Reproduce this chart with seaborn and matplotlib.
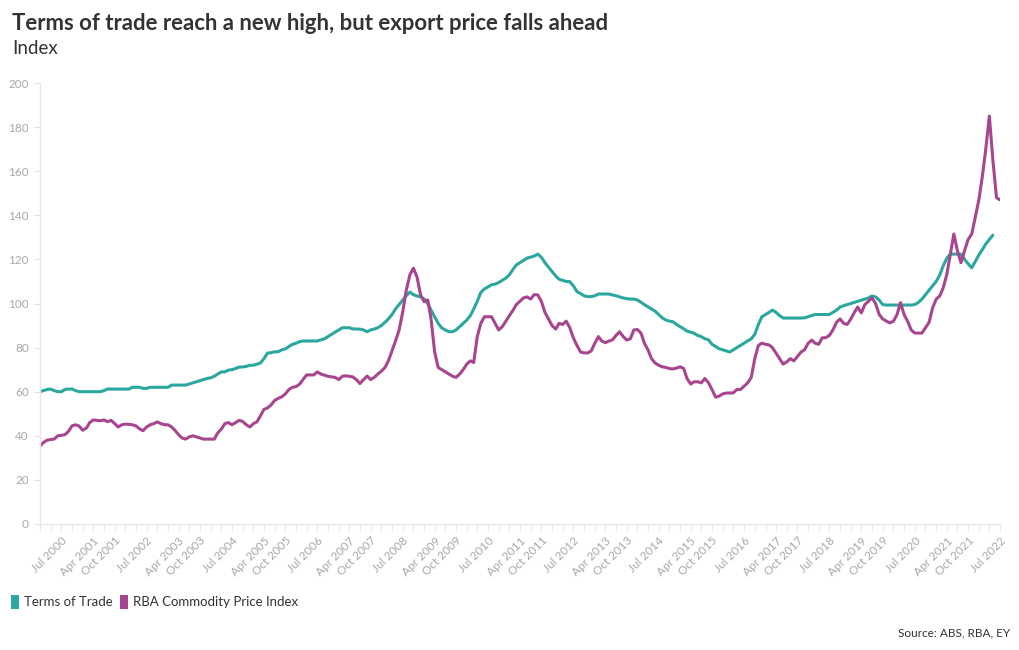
import numpy as np
import pandas as pd
import matplotlib
matplotlib.use("Agg")
import matplotlib.pyplot as plt
import matplotlib.dates as mdates
from matplotlib.patches import Patch
import seaborn as sns

# ---------------- data ----------------
series_names = ["Terms of Trade", "RBA Commodity Price Index"]

tot_start = "2000-01-01"   # monthly, Jan 2000 - May 2022
tot_values = [
    60, 60.5, 61, 61.2, 60.5, 60, 60, 61, 61.2, 61.2, 60.5, 60,
    60, 60, 60, 60, 60, 60, 60.5, 61.2, 61.2, 61.2, 61.2, 61.2,
    61.2, 61.2, 62, 62, 62, 61.5, 61.5, 62, 62, 62, 62, 62,
    62, 63, 63, 63, 63, 63, 63.5, 64, 64.5, 65, 65.5, 66,
    66.3, 67, 68, 69, 69, 69.8, 70, 70.5, 71.2, 71.2, 71.5, 72,
    72, 72.5, 73, 75, 77.5, 77.7, 78.1, 78.1, 79, 79.4, 80.5, 81.5,
    82, 82.7, 83, 83, 83, 83, 83, 83.5, 84, 85, 86, 87,
    88, 89, 89, 89, 88.5, 88.4, 88.4, 88, 87.2, 88, 88.4, 89,
    90, 91.5, 93, 95, 97.5, 99.5, 101.5, 103.5, 105.2, 104, 103.4, 103,
    102, 100, 97, 94, 91, 88.9, 88, 87.2, 87.2, 88, 89.5, 91,
    92.5, 94.5, 97.5, 101, 105, 106.6, 107.5, 108.5, 108.8, 109.5, 110.5, 111.5,
    113, 115.5, 117.5, 118.5, 119.5, 120.6, 121, 121.5, 122.4, 121, 118.5, 116.5,
    114.5, 112.5, 111, 110.5, 110, 109.9, 108, 105.4, 104.5, 103.5, 103.1, 103.1,
    103.5, 104.3, 104.3, 104.3, 104.3, 103.9, 103.5, 103, 102.5, 102.2, 102, 102,
    101.6, 100.5, 99.5, 98.5, 97.5, 96.5, 95, 93.5, 92.5, 92, 91.7, 90.5,
    89.5, 88.5, 87.5, 87, 86.5, 85.5, 85, 84, 83.5, 81.5, 80.5, 79.5,
    79, 78.5, 78, 79, 80, 81, 82, 83, 84, 86, 90.5, 94,
    95, 96, 97, 96, 94.5, 93.4, 93.4, 93.4, 93.4, 93.4, 93.4, 93.5,
    94, 94.5, 95, 95, 95, 95, 95, 96, 97, 98.4, 99, 99.5,
    100, 100.5, 101, 101.5, 102, 102.5, 103.4, 103, 101.5, 99.5, 99.3, 99.3,
    99.3, 99.3, 99.3, 99.3, 99.3, 99.3, 99.5, 100.5, 102, 104, 106, 108,
    110, 113, 117, 120.5, 122.4, 122.4, 122.4, 122.4, 120, 118, 116.2, 119,
    122, 124.5, 127, 129, 131,
]

rba_start = "2000-01-01"   # monthly, Jan 2000 - Jul 2022
rba_values = [
    35.4, 37, 38, 38.3, 38.5, 40, 40.2, 40.5, 42, 44.5, 45, 44.4,
    42.5, 43.5, 46, 47.2, 47, 46.8, 47.2, 46.4, 47, 45.5, 44, 45,
    45.3, 45.2, 45, 44.5, 43.2, 42.3, 44, 45, 45.5, 46.3, 45.5, 45,
    45, 44, 42.5, 40.5, 39, 38.5, 39.5, 40, 39.5, 39, 38.5, 38.5,
    38.5, 38.5, 41.3, 43, 45.5, 46, 45, 46, 47, 46.5, 45, 44,
    45.5, 46.4, 49, 52, 52.6, 54, 56, 57, 57.7, 59, 61, 62,
    62.3, 63.5, 65.5, 67.6, 67.6, 67.6, 69, 68, 67.5, 67, 66.7, 66.5,
    65.5, 67, 67.2, 67, 66.7, 65.5, 63.7, 65.5, 67.1, 65.5, 66.5, 68,
    69.3, 71, 74, 78.5, 83, 88, 96, 106, 113, 116, 112, 104,
    100.8, 101.6, 93, 78, 71, 70, 69, 68, 67, 66.5, 68, 70,
    72.5, 74, 73.2, 85, 91, 94, 94, 94, 91, 88, 89.5, 92,
    94.5, 97, 99.5, 101, 102.5, 103, 102, 104, 103.9, 101, 96, 93,
    90, 88.4, 91, 90.5, 92, 89, 84.4, 81, 78, 77.6, 77.6, 78.5,
    82, 85, 83, 82.2, 83, 83.5, 85.5, 87.2, 85, 83.4, 84, 88,
    88.2, 86.5, 82, 79, 75, 73, 72, 71.3, 71, 70.5, 70.3, 70.7,
    71.3, 70.5, 66, 63.5, 64.5, 64.5, 64, 66, 64, 61, 57.5, 58,
    59, 59.4, 59.4, 59.5, 61, 61, 62.5, 64, 66.5, 75, 81, 82,
    81.5, 81.2, 80, 77.5, 75, 72.5, 73.5, 75, 74, 76, 78, 79,
    82, 83.4, 82, 81.5, 84.4, 84.5, 85.5, 88, 91.5, 93, 91, 90.5,
    93, 96, 98.4, 95.7, 99.5, 101, 102.5, 100, 95, 93, 92, 91.2,
    92, 95, 100.4, 95, 92, 88, 86.6, 86.6, 86.6, 89, 91.5, 98,
    102, 103.5, 107, 113, 122, 131.5, 124, 118.5, 124, 129, 131.5, 139,
    147, 158, 170, 185, 165, 148, 147,
]

tick_labels = ["Jul 2000", "Apr 2001", "Oct 2001", "Jul 2002", "Apr 2003", "Oct 2003",
               "Jul 2004", "Apr 2005", "Oct 2005", "Jul 2006", "Apr 2007", "Oct 2007",
               "Jul 2008", "Apr 2009", "Oct 2009", "Jul 2010", "Apr 2011", "Oct 2011",
               "Jul 2012", "Apr 2013", "Oct 2013", "Jul 2014", "Apr 2015", "Oct 2015",
               "Jul 2016", "Apr 2017", "Oct 2017", "Jul 2018", "Apr 2019", "Oct 2019",
               "Jul 2020", "Apr 2021", "Oct 2021", "Jul 2022"]
y_ticks = [0, 20, 40, 60, 80, 100, 120, 140, 160, 180, 200]

title = "Terms of trade reach a new high, but export price falls ahead"
subtitle = "Index"
source = "Source: ABS, RBA, EY"

colors = ["#2aa79e", "#a8458f"]

# ---------------- frame ----------------
tot = pd.DataFrame({"date": pd.date_range(tot_start, periods=len(tot_values), freq="MS"),
                    "value": tot_values, "series": series_names[0]})
rba = pd.DataFrame({"date": pd.date_range(rba_start, periods=len(rba_values), freq="MS"),
                    "value": rba_values, "series": series_names[1]})
df = pd.concat([tot, rba], ignore_index=True)

sns.set_theme(style="white")
plt.rcParams["font.family"] = ["Lato", "DejaVu Sans"]

fig = plt.figure(figsize=(10.2, 6.5), dpi=100)
ax = fig.add_axes([40 / 1020, 126 / 650, 960 / 1020, 441 / 650])

sns.lineplot(data=df, x="date", y="value", hue="series", palette=colors,
             linewidth=2.2, ax=ax, legend=False, solid_joinstyle="round",
             solid_capstyle="round")

ax.set_ylim(0, 200)
ax.set_xlim(pd.Timestamp("2000-01-01"), pd.Timestamp("2022-07-01"))
ax.set_xlabel("")
ax.set_ylabel("")

# y axis
ax.set_yticks(y_ticks)
ax.set_yticklabels([str(v) for v in y_ticks])
ax.tick_params(axis="y", length=4, width=0.8, color="#e0e0e0", labelcolor="#a8a8a8",
               labelsize=8.5, pad=4, left=True)

# x axis
tick_dates = [pd.Timestamp(pd.to_datetime(t, format="%b %Y")) for t in tick_labels]
ax.set_xticks(tick_dates)
ax.set_xticklabels(tick_labels, rotation=45, ha="right", rotation_mode="anchor")
ax.xaxis.set_minor_locator(mdates.MonthLocator(bymonth=[1, 4, 7, 10]))
ax.tick_params(axis="x", which="both", length=5, width=0.8, color="#e6e6e6",
               labelcolor="#a8a8a8", labelsize=8.5, pad=3, bottom=True)

for s in ["top", "right"]:
    ax.spines[s].set_visible(False)
for s in ["left", "bottom"]:
    ax.spines[s].set_color("#e6e6e6")
    ax.spines[s].set_linewidth(0.9)
ax.grid(False)

# titles
fig.text(12 / 1020, 1 - 24 / 650, title, fontsize=15.9, fontweight="bold",
         color="#333333", va="center", ha="left")
fig.text(12 / 1020, 1 - 48 / 650, subtitle, fontsize=13.5, color="#333333",
         va="center", ha="left")

# legend
handles = [Patch(facecolor=c, edgecolor="none", label=n) for c, n in zip(colors, series_names)]
fig.legend(handles=handles, loc="center left", bbox_to_anchor=(6 / 1020, 1 - 602 / 650),
           ncol=2, frameon=False, fontsize=9.5, handlelength=0.6, handleheight=1.3,
           handletextpad=0.4, columnspacing=0.5, labelcolor="#333333", borderaxespad=0)

fig.text(1010 / 1020, 1 - 633 / 650, source, fontsize=8.5, color="#333333",
         ha="right", va="center")

fig.savefig("out.png", dpi=100)
